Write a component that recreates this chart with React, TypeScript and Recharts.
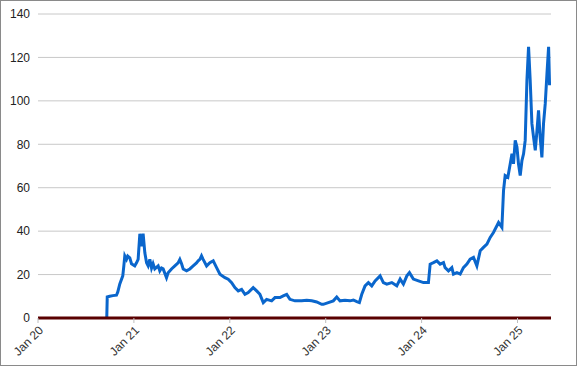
import React from "react";
import { LineChart, Line, XAxis, YAxis, CartesianGrid } from "recharts";

// time in fractional years since Jan 2020
const yearOffsets = [
  0.717, 0.722, 0.748, 0.78, 0.818, 0.832, 0.853, 0.884, 0.895, 0.905, 0.923, 0.936, 0.957, 0.975,
  1.009, 1.027, 1.044, 1.062, 1.079, 1.096, 1.114, 1.132, 1.148, 1.166, 1.184, 1.2, 1.218, 1.253,
  1.27, 1.288, 1.305, 1.34, 1.357, 1.392, 1.427, 1.461, 1.479, 1.497, 1.514, 1.549, 1.583, 1.618,
  1.653, 1.67, 1.688, 1.705, 1.722, 1.758, 1.792, 1.827, 1.862, 1.897, 1.949, 1.983, 2.019, 2.053,
  2.088, 2.123, 2.158, 2.192, 2.244, 2.28, 2.314, 2.349, 2.384, 2.436, 2.471, 2.523, 2.557, 2.593,
  2.627, 2.68, 2.749, 2.802, 2.854, 2.906, 2.958, 2.975, 3.027, 3.079, 3.115, 3.149, 3.201, 3.253,
  3.288, 3.324, 3.351, 3.376, 3.41, 3.445, 3.48, 3.515, 3.567, 3.601, 3.637, 3.689, 3.741, 3.776,
  3.81, 3.846, 3.873, 3.914, 3.967, 4.019, 4.071, 4.089, 4.123, 4.159, 4.193, 4.228, 4.245, 4.28,
  4.315, 4.332, 4.368, 4.402, 4.436, 4.472, 4.506, 4.541, 4.576, 4.611, 4.645, 4.681, 4.715, 4.749,
  4.785, 4.802, 4.837, 4.854, 4.871, 4.899, 4.924, 4.942, 4.958, 4.976, 4.994, 5.01, 5.028, 5.046,
  5.063, 5.08, 5.098, 5.115, 5.132, 5.15, 5.167, 5.185, 5.203, 5.219, 5.236, 5.254, 5.271, 5.289,
  5.307, 5.324, 5.334,
];

const prices = [
  0, 9.7, 10, 10.3, 10.5, 12, 15.7, 19.4, 24, 28.6, 27, 28.5, 27.7, 25,
  24, 25.4, 27, 38.8, 33, 38.8, 30, 25.4, 24, 27, 23, 25, 22.6, 24,
  21.7, 23, 22.6, 18.5, 20.8, 22.6, 24, 25.4, 27, 25, 22.6, 21.7, 22.6, 24,
  25.4, 26.3, 27, 28.6, 27, 24, 25.5, 26.3, 23.2, 20.2, 18.6, 17.9, 16.3, 14,
  12.5, 13.2, 10.9, 11.7, 14, 12.5, 10.9, 7.1, 8.6, 7.9, 9.4, 9.4, 10.2, 10.9,
  8.6, 7.9, 7.9, 8.2, 7.9, 7.4, 6.3, 6.3, 7.1, 7.9, 9.7, 7.9, 8.2, 7.9,
  8.3, 7.5, 7.1, 10.9, 14.8, 16.3, 14.8, 17.1, 19.4, 16.3, 15.6, 16.3, 14.8, 17.9,
  15.6, 19.4, 20.9, 17.9, 17.1, 16.3, 16.3, 24.8, 25.5, 26.3, 24.8, 25.5, 23.2, 21.7,
  23.2, 20.2, 20.9, 20.2, 23.2, 24.8, 27.1, 27.9, 24, 31, 32.5, 34, 37.1, 39.4,
  42.5, 44, 41.7, 58.7, 65.6, 64.8, 71, 75.6, 71, 81.8, 78.7, 71, 65.6, 72.5,
  75.6, 81.8, 109.5, 124.9, 109.5, 89.5, 83.3, 77.2, 86.4, 95.6, 83.3, 74, 89.5, 98.7,
  112.6, 124.9, 107.2,
];

const startYear = 2020;
const xTicks = [2020, 2021, 2022, 2023, 2024, 2025];
const yTicks = [0, 20, 40, 60, 80, 100, 120, 140];

const data = yearOffsets.map((t, i) => ({ t: startYear + t, v: prices[i] }));

const font = "'Liberation Sans', Arial, sans-serif";

export default function App() {
  return (
    <div
      style={{
        position: "absolute",
        left: 0,
        top: 0,
        width: 577,
        height: 366,
        boxSizing: "border-box",
        border: "1px solid #8a8a8a",
        background: "#fff",
      }}
    >
      <LineChart
        width={575}
        height={364}
        data={data}
        margin={{ top: 13, right: 25, bottom: 0, left: 0 }}
      >
        <CartesianGrid vertical={false} stroke="#c8c8c8" strokeWidth={1} />
        <XAxis
          dataKey="t"
          type="number"
          domain={[2020, 2025.349]}
          ticks={xTicks}
          tickFormatter={(v: number) => `Jan ${String(v).slice(2)}`}
          angle={-45}
          textAnchor="end"
          height={47}
          axisLine={{ stroke: "#5a0000", strokeWidth: 3 }}
          tickLine={{ stroke: "#bdbdbd" }}
          tickSize={5}
          tick={{ fontSize: 12, fill: "#333", fontFamily: font }}
          interval={0}
          allowDataOverflow
        />
        <YAxis
          domain={[0, 140]}
          ticks={yTicks}
          width={37}
          axisLine={false}
          tickLine={false}
          tick={{ fontSize: 12, fill: "#222", fontFamily: font }}
          interval={0}
        />
        <Line
          dataKey="v"
          type="linear"
          stroke="#0a66cc"
          strokeWidth={3}
          dot={false}
          isAnimationActive={false}
        />
      </LineChart>
    </div>
  );
}
